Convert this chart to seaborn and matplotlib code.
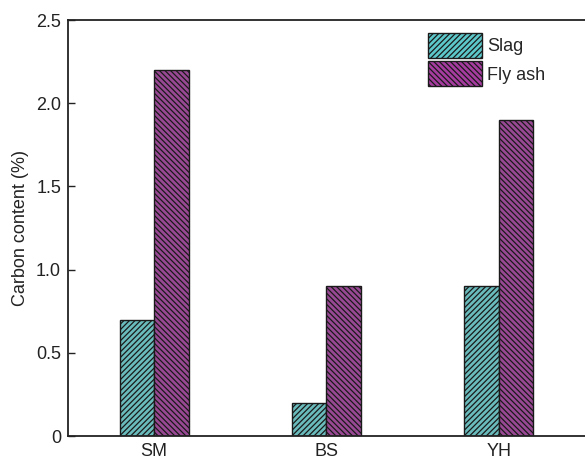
import matplotlib
matplotlib.use("Agg")
import matplotlib.pyplot as plt
import seaborn as sns
import pandas as pd
from matplotlib.ticker import FuncFormatter
from matplotlib.patches import Patch

sites = ["SM", "BS", "YH"]
slag = [0.7, 0.2, 0.9]
fly_ash = [2.2, 0.9, 1.9]
series = ["Slag", "Fly ash"]
colors = {"Slag": "#5cc8ca", "Fly ash": "#a63ca0"}
hatches = {"Slag": "//////", "Fly ash": "\\\\\\\\\\\\"}

df = pd.DataFrame({
    "Site": sites * 2,
    "Material": ["Slag"] * len(sites) + ["Fly ash"] * len(sites),
    "Carbon": slag + fly_ash,
})

sns.set_style("ticks")
plt.rcParams["font.family"] = ["Liberation Sans", "DejaVu Sans"]
plt.rcParams["hatch.linewidth"] = 0.9
plt.rcParams["hatch.color"] = "#1a1a1a"

fig = plt.figure(figsize=(5.85, 4.63), dpi=100)
ax = fig.add_axes([0.1162, 0.0583, 0.8838, 0.8985])

sns.barplot(data=df, x="Site", y="Carbon", hue="Material", hue_order=series,
            palette=colors, width=0.4, edgecolor="#1a1a1a", linewidth=1.0,
            errorbar=None, legend=False, ax=ax)

for container, name in zip(ax.containers, series):
    for bar in container:
        bar.set_hatch(hatches[name])

ax.set_xlim(-0.5, 2.5)
ax.set_ylim(0, 2.5)
ax.set_yticks([0, 0.5, 1.0, 1.5, 2.0, 2.5])
ax.yaxis.set_major_formatter(FuncFormatter(lambda v, p: "0" if v == 0 else f"{v:.1f}"))
ax.set_xlabel("")
ax.set_ylabel("Carbon content (%)", fontsize=13, color="#222222", labelpad=5)
ax.tick_params(axis="y", direction="in", length=5, width=1, labelsize=13, colors="#222222", pad=5)
ax.tick_params(axis="x", length=0, labelsize=13, pad=5, colors="#222222")
for s in ax.spines.values():
    s.set_linewidth(1.3)
    s.set_color("#222222")
ax.spines["right"].set_visible(False)

handles = [Patch(facecolor=colors[n], edgecolor="#1a1a1a", hatch=hatches[n], label=n)
           for n in series]
ax.legend(handles=handles, loc="upper left", bbox_to_anchor=(0.696, 0.969),
          frameon=False, fontsize=13, handlelength=3.0, handleheight=1.75,
          handletextpad=0.28, labelspacing=0.2, borderpad=0, borderaxespad=0)

fig.savefig("out.png", dpi=100)
